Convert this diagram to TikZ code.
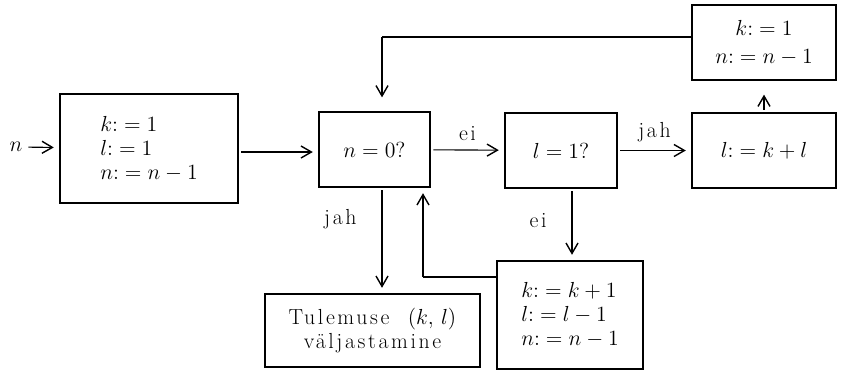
\RequirePackage{fix-cm}
\documentclass[tikz,border=0pt]{standalone}
\usepackage{fontspec}
\usetikzlibrary{arrows.meta, positioning, calc}
\usepackage{amsmath}
\newcommand{\bigtext}{\fontsize{15.5}{17}\selectfont}
\newcommand{\asg}{{:}=}
\newfontfamily\spacedrm[LetterSpace=12]{Latin Modern Roman}
\tikzset{
  arrowK/.style={-{Straight Barb[length=2.6mm, width=3mm, line width=1pt]}, black,
                 line width=0.8pt, shorten >=4pt, shorten <=2pt},
  lineK/.style={black, line width=0.8pt},
  boxK/.style={rectangle, draw=black, line width=0.8pt, align=left,
               font=\bigtext, inner sep=4pt},
  boxC/.style={rectangle, draw=black, line width=0.8pt, align=center,
               font=\bigtext, inner sep=4pt},
  lbl/.style={font=\bigtext\spacedrm, inner sep=2pt},
}

\begin{document}
\begin{tikzpicture}[x=0.025cm, y=-0.025cm]
    \useasboundingbox (0,0) rectangle (841,371);
    % input and start
    \node[lbl] (nin) at (16,147) {$n$};
    \node[boxK, minimum width=4.45cm, minimum height=2.725cm] (init) at (149,148.5)
      {$k\asg 1$\\ $l\asg 1$\\ $n\asg n-1$};
    % main row
    \node[boxC, minimum width=2.775cm, minimum height=1.875cm] (zero) at (374.5,149.5) {$n=0?$};
    \node[boxC, minimum width=2.8cm, minimum height=1.875cm] (lone) at (561,150.5) {$l=1?$};
    \node[boxC, minimum width=3.6cm, minimum height=1.875cm] (add) at (764,150.5) {$l\asg k+l$};
    \node[boxC, minimum width=3.6cm, minimum height=1.875cm] (reset) at (764,42.5)
      {$k\asg 1$\\[3pt] $n\asg n-1$};
    % bottom row
    \node[boxC, minimum width=5.375cm, minimum height=1.825cm, font=\bigtext\spacedrm] (out) at (372.5,330.5)
      {Tulemuse\ \ $(k,\,l)$\\ väljastamine};
    \node[boxK, minimum width=3.65cm, minimum height=2.7cm] (dec) at (570,315)
      {$k\asg k+1$\\ $l\asg l-1$\\ $n\asg n-1$};
    % helper points
    \coordinate (fb) at (382,37);
    \coordinate (jx) at (382,0);
    \coordinate (bx) at (423,277);
    \coordinate (dx) at (572,0);
    % connectors
    \draw[arrowK] (nin) -- (init);
    \draw[arrowK] (init.east |- 0,152) -- (zero.west |- 0,152);
    \draw[arrowK] (zero) -- node[lbl, above=4pt] {ei} (lone);
    \draw[arrowK] (lone) -- node[lbl, above=4pt] {jah} (add);
    \draw[arrowK, shorten >=10pt] (add) -- (reset);
    \draw[lineK] (reset.west |- fb) -- (fb);
    \draw[arrowK, shorten >=10pt, shorten <=0pt] (fb) -- (fb |- zero.north);
    \draw[arrowK] (zero.south -| jx) -- node[lbl, left=0.55cm, pos=0.3] {jah} (out.north -| jx);
    \draw[lineK] (dec.west |- bx) -- (bx);
    \draw[arrowK, shorten <=0pt] (bx) -- (bx |- zero.south);
    \draw[arrowK] (lone.south -| dx) -- node[lbl, left=0.55cm, pos=0.45] {ei} (dec.north -| dx);
  \end{tikzpicture}
\end{document}
